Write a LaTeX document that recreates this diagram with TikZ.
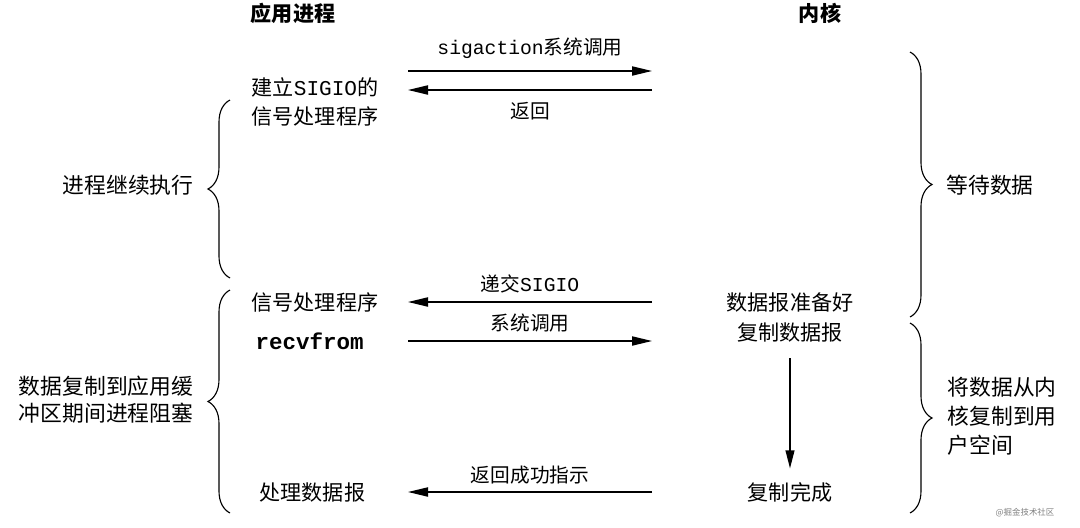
\documentclass[tikz,border=0pt]{standalone}
\usepackage{fontspec}
\setmainfont{Noto Sans CJK SC}
\setmonofont{Liberation Mono}
\usetikzlibrary{arrows.meta,decorations.pathreplacing}

\begin{document}
\begin{tikzpicture}[>={Triangle[length=5mm,width=2.3mm]}, x=0.025cm, y=-0.025cm,
    hd/.style={font=\fontsize{15}{18}\selectfont\bfseries},
    txt/.style={font=\fontsize{15}{20.5}\selectfont, align=center, inner sep=1pt},
    side/.style={font=\fontsize{15.5}{19}\selectfont, align=left, inner sep=1pt},
    lbl/.style={font=\fontsize{14}{17}\selectfont, inner sep=1pt},
    msg/.style={->, line width=1pt},
    brc/.style={decorate, decoration={brace, amplitude=0.55cm, aspect=0.5}, line width=0.8pt}]
    \useasboundingbox (0,0) rectangle (1080,527);
    \node[hd] (app) at (293,13) {应用进程};
    \node[hd] (kern) at (820,13) {内核};
    % application side
    \node[txt, align=left, anchor=west] (setup) at (250,102) {建立\texttt{SIGIO}的\\信号处理程序};
    \node[txt, anchor=west] (handler) at (250,302) {信号处理程序};
    \node[txt, anchor=west, font=\fontsize{16}{19}\selectfont\ttfamily\bfseries] (recv) at (254,341) {recvfrom};
    \node[txt, anchor=west] (proc) at (258,492) {处理数据报};
    % kernel side
    \node[txt] (ready) at (790,302) {数据报准备好};
    \node[txt] (copy) at (790,333) {复制数据报};
    \node[txt] (done) at (790,492) {复制完成};
    % arrow ends
    \coordinate (s1) at (408,71);  \coordinate (k1) at (652,71);
    \coordinate (s2) at (408,90);  \coordinate (k2) at (652,90);
    \coordinate (s3) at (408,302); \coordinate (k3) at (652,302);
    \coordinate (s4) at (408,341); \coordinate (k4) at (652,341);
    \coordinate (s5) at (408,492); \coordinate (k5) at (652,492);
    % messages
    \draw[msg] (s1) -- node[lbl, above=7pt] {\texttt{sigaction}系统调用} (k1);
    \draw[msg] (k2) -- node[lbl, below=7pt] {返回} (s2);
    \draw[msg] (k3) -- node[lbl, above=5pt] {递交\texttt{SIGIO}} (s3);
    \draw[msg] (s4) -- node[lbl, above=5pt] {系统调用} (k4);
    \draw[msg] (k5) -- node[lbl, above=4pt] {返回成功指示} (s5);
    \draw[msg, shorten <=0.35cm, -{Triangle[length=4.5mm,width=2.2mm]}] (copy) -- ([yshift=0.3cm]done.north);
    % braces and phases
    \draw[brc] (230,278) -- (230,100);
    \node[side] (cont) at (128,185) {进程继续执行};
    \draw[brc] (230,513) -- (230,290);
    \node[side] (block) at (106,400) {数据复制到应用缓\\冲区期间进程阻塞};
    \draw[brc] (910,52) -- (910,317);
    \node[side] (wait) at (990,185) {等待数据};
    \draw[brc] (910,323) -- (910,513);
    \node[side, anchor=west, font=\fontsize{15.5}{20.5}\selectfont] (kcopy) at (946,416) {将数据从内\\核复制到用\\户空间};
    \node[font=\fontsize{6}{7}\selectfont, text=gray] (mark) at (1025,513) {@掘金技术社区};
\end{tikzpicture}
\end{document}
